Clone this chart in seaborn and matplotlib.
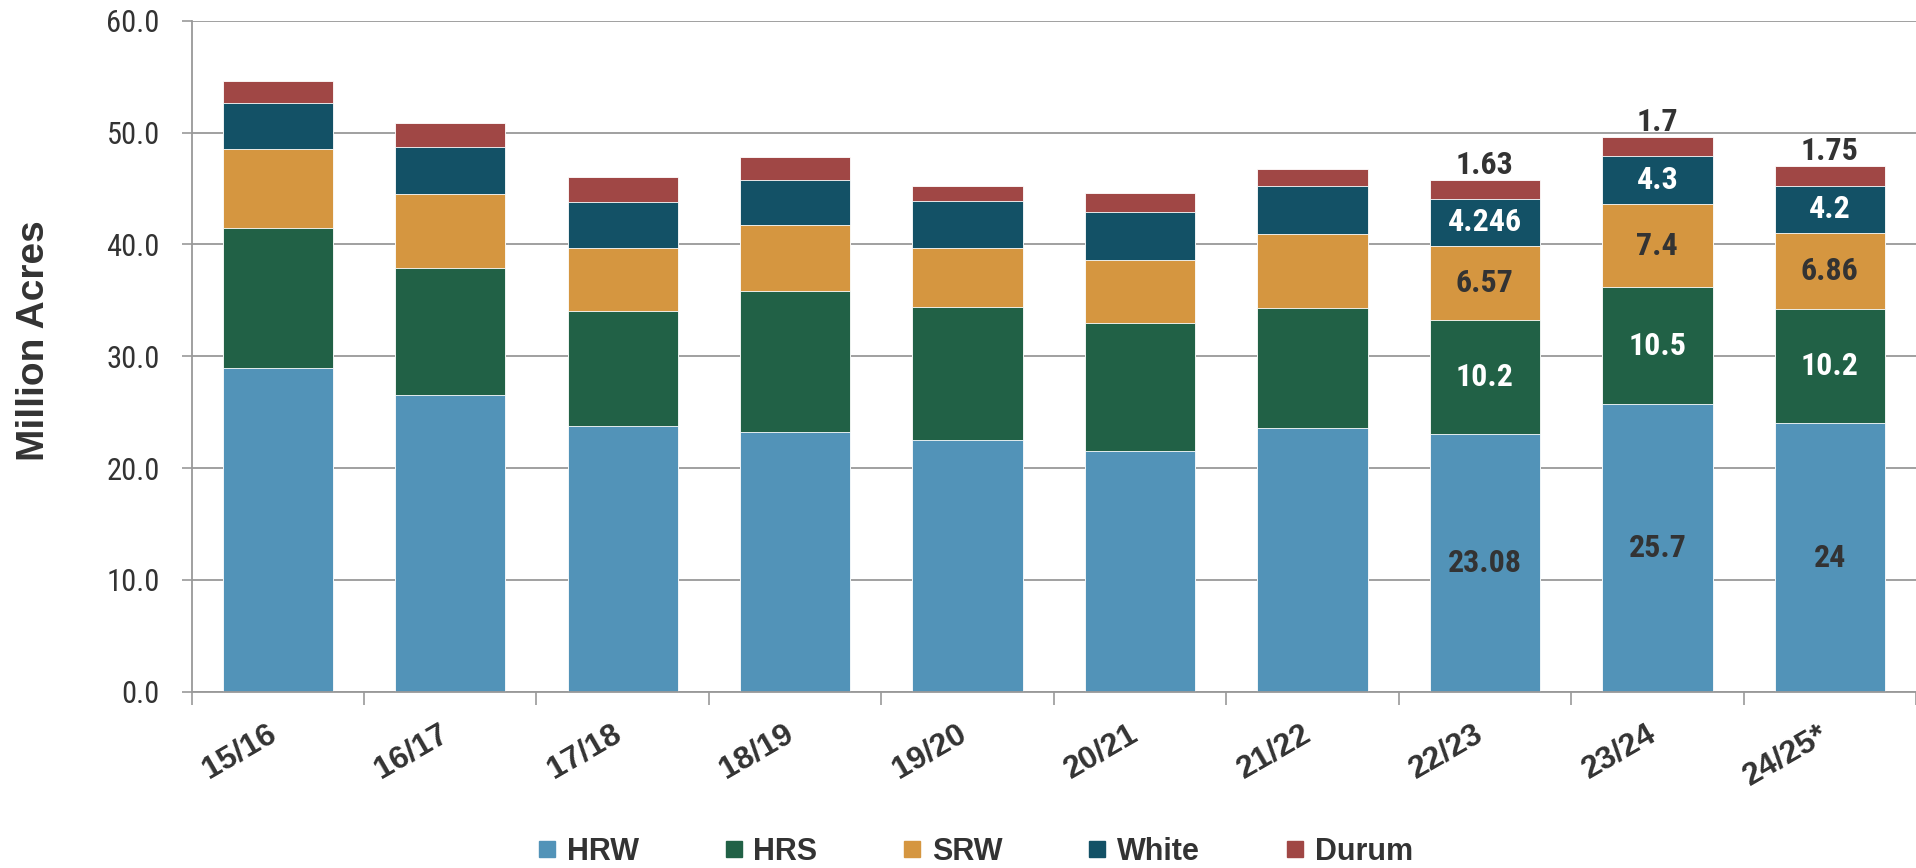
import numpy as np
import pandas as pd
import matplotlib.pyplot as plt
from matplotlib.lines import Line2D
from matplotlib.ticker import FixedLocator
import seaborn as sns

sns.set_theme(style="white")
plt.rcParams['font.family'] = ['Liberation Sans', 'DejaVu Sans']

seasons = ['15/16', '16/17', '17/18', '18/19', '19/20', '20/21', '21/22', '22/23', '23/24', '24/25*']
hrw = [28.96, 26.54, 23.79, 23.22, 22.51, 21.52, 23.58, 23.08, 25.7, 24]
hrs = [12.47, 11.37, 10.30, 12.66, 11.94, 11.47, 10.78, 10.2, 10.5, 10.2]
srw = [7.11, 6.57, 5.58, 5.88, 5.25, 5.61, 6.60, 6.57, 7.4, 6.86]
white = [4.15, 4.21, 4.09, 4.00, 4.15, 4.27, 4.29, 4.246, 4.3, 4.2]
durum = [1.94, 2.15, 2.27, 2.09, 1.34, 1.70, 1.53, 1.63, 1.7, 1.75]
labeled_seasons = ['22/23', '23/24', '24/25*']

classes = ['HRW', 'HRS', 'SRW', 'White', 'Durum']
colors = {'HRW': '#5293b8', 'HRS': '#216146', 'SRW': '#d59640',
          'White': '#135166', 'Durum': '#a04745'}
label_colors = {'HRW': '#333333', 'HRS': 'white', 'SRW': '#333333',
                'White': 'white', 'Durum': '#333333'}
dark = '#333333'
grey = '#999999'
num_font = ['Roboto Condensed', 'Roboto', 'DejaVu Sans']

df = pd.DataFrame({'season': seasons, 'HRW': hrw, 'HRS': hrs, 'SRW': srw,
                   'White': white, 'Durum': durum})
cum = df[classes].cumsum(axis=1)
cum['season'] = df['season']

fig = plt.figure(figsize=(19.16, 8.68), dpi=100)
ax = fig.add_axes([0.100, 0.203, 0.9, 0.773])

# stacked bars: draw cumulative totals from the top layer down
for cls in reversed(classes):
    sns.barplot(data=cum, x='season', y=cls, order=seasons, color=colors[cls],
                saturation=1, width=0.64, edgecolor='white', linewidth=0.6, ax=ax)

for i, s in enumerate(seasons):
    if s not in labeled_seasons:
        continue
    for cls in classes:
        val = df.loc[i, cls]
        top = cum.loc[i, cls]
        if cls == 'Durum':
            ax.annotate(f'{val:g}', (i, top), xytext=(0, 0), textcoords='offset points',
                        ha='center', va='bottom', fontsize=23, fontweight='bold',
                        color=label_colors[cls], family=num_font)
        else:
            ax.text(i, top - val / 2, f'{val:g}', ha='center', va='center',
                    fontsize=23, fontweight='bold', color=label_colors[cls],
                    family=num_font)

ax.set_xlim(-0.5, len(seasons) - 0.5)
ax.set_ylim(0, 60)
ax.set_yticks(np.arange(0, 61, 10))
ax.set_yticklabels([f'{v:.1f}' for v in np.arange(0, 61, 10)], family=num_font,
                   fontsize=22, color=dark)
ax.set_xticks(range(len(seasons)))
ax.set_xticklabels(seasons, fontsize=23, fontweight='bold', color=dark)
plt.setp(ax.get_xticklabels(), rotation=30, ha='right', va='baseline',
         rotation_mode='anchor')
ax.xaxis.set_minor_locator(FixedLocator(np.arange(-0.5, len(seasons), 1)))
ax.tick_params(axis='x', which='major', bottom=True, length=0, pad=34)
ax.tick_params(axis='x', which='minor', bottom=True, length=9, width=1.2, color=grey)
ax.tick_params(axis='y', left=True, length=7, width=1.2, color=grey, pad=16)
ax.set_xlabel('')
ax.set_ylabel('')

ax.grid(axis='y', color=grey, linewidth=1.3)
ax.set_axisbelow(True)
for side in ['top', 'right']:
    ax.spines[side].set_visible(False)
for side in ['left', 'bottom']:
    ax.spines[side].set_color(grey)
    ax.spines[side].set_linewidth(1.3)

fig.text(0.018, 0.607, 'Million Acres', rotation=90, ha='center', va='center',
         fontsize=28, fontweight='bold', color=dark)

handles = [Line2D([], [], marker='s', linestyle='none', markersize=11.5,
                  color=colors[c]) for c in classes]
fig.legend(handles, classes, loc='center', bbox_to_anchor=(0.509, 0.0185), ncol=5,
           frameon=False, prop={'weight': 'bold', 'size': 22}, labelcolor=dark,
           handlelength=0.6, handletextpad=0.35, columnspacing=2.8)

fig.savefig('out.png', dpi=100)
